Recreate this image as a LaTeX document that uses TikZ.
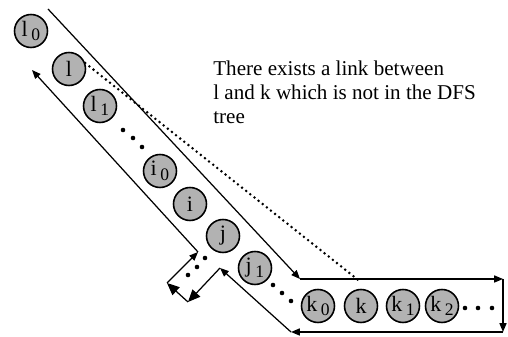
\documentclass[tikz,border=0pt]{standalone}
\usepackage{fontspec}
\setmainfont{Liberation Serif}
\usetikzlibrary{arrows.meta}
\newcommand\nodesub[1]{\,\raisebox{-0.45ex}{\fontsize{10}{10}\selectfont #1}}
\tikzset{
  vtx/.style={circle,draw,line width=0.9pt,fill=black!30,minimum size=0.66cm,
    inner sep=0pt,font=\fontsize{12.5}{12.5}\selectfont},
  walk/.style={line width=0.7pt,-{Triangle[length=5pt,width=4pt]}},
  bigwalk/.style={line width=0.7pt,-{Triangle[length=7pt,width=6pt]}},
  nontree/.style={line width=1.6pt,line cap=round,dash pattern=on 0pt off 3pt},
}
\begin{document}
\begin{tikzpicture}[x=0.02cm,y=-0.02cm]%
\useasboundingbox (0,0) rectangle (508,337);
% tree path l0 ... j1
\node[vtx] (l0) at (31,31) {l\nodesub{0}};
\node[vtx] (l) at (69,69) {l};
\node[vtx] (l1) at (100,106) {l\nodesub{1}};
\node[vtx] (i0) at (160,171) {i\nodesub{0}};
\node[vtx] (i) at (190,204) {i};
\node[vtx] (j) at (223,236) {j};
\node[vtx] (j1) at (255,268) {j\nodesub{1}};
% row k0 ... k2
\node[vtx] (k0) at (318,306) {k\nodesub{0}};
\node[vtx] (k) at (361,306) {k};
\node[vtx] (k1) at (403,306) {k\nodesub{1}};
\node[vtx] (k2) at (442,306) {k\nodesub{2}};
% the link that is not in the tree
\draw[nontree] (l.20) -- ([yshift=0.13cm]k.north);
\node[anchor=north west,align=left,inner sep=0pt,font=\fontsize{12}{13.6}\selectfont] (note)
  at (213,60.5) {There exists a link between\\l and k which is not in the DFS\\tree};
% contour walked round the tree
\coordinate (c1) at (48,9);
\coordinate (c2) at (300,279);
\coordinate (c3) at (503,279);
\coordinate (c4) at (503,332);
\coordinate (c5) at (291,332);
\coordinate (c6) at (220,268);
\coordinate (c7) at (188,302);
\coordinate (c8) at (167,283);
\coordinate (c9) at (198,252);
\coordinate (c10) at (32,70);
\foreach \p/\q in {c1/c2,c2/c3,c3/c4,c4/c5,c5/c6,c8/c9,c9/c10}
  \draw[walk] (\p) -- (\q);
\draw[bigwalk] (c6) -- (c7);
\draw[bigwalk] (c7) -- (c8);
% dots for the nodes left out
\foreach \x/\y in {123/130,133/138,142/147,205/258,197/267,188/275,
  273/285,282/293,291/301,465/308,478/308,492/308}
  \fill (\x,\y) circle (2.3);
\end{tikzpicture}
\end{document}
